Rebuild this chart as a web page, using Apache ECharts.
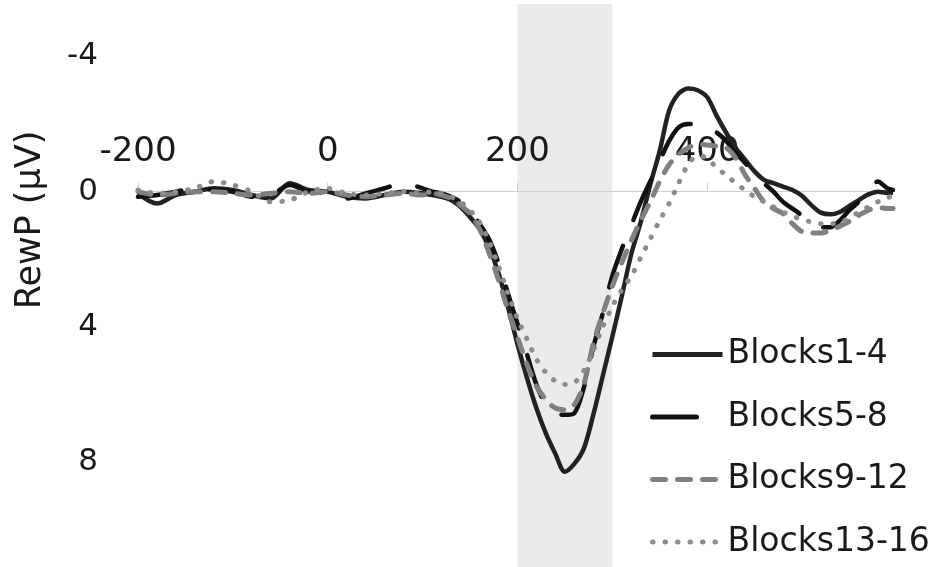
<!DOCTYPE html>
<html>
<head>
<meta charset="utf-8">
<script src="https://cdn.jsdelivr.net/npm/echarts@6/dist/echarts.min.js"></script>
<style>html,body{margin:0;padding:0;background:#fff;}#c{width:939px;height:567px;}</style>
</head>
<body>
<div id="c"></div>
<script>
var seriesNames = ['Blocks1-4', 'Blocks5-8', 'Blocks9-12', 'Blocks13-16'];
var xTickLabels = [-200, 0, 200, 400];
var yTickLabels = [-4, 0, 4, 8];
var shadedWindow = [200, 300];

var times = [-200,-180,-160,-140,-120,-100,-80,-60,-40,-20,0,20,40,60,80,100,
  110,120,130,140,150,160,170,180,190,200,
  210,220,230,240,250,260,270,280,290,300,
  310,320,330,340,350,360,370,380,390,400,
  410,420,430,440,450,460,470,480,490,500,
  510,520,530,540,550,560,570,580,590,596];

var blocks1_4 = [0.05,0.35,0.1,0.0,-0.1,-0.05,0.1,0.2,-0.25,-0.05,0.0,0.15,0.2,0.1,0.0,0.05,
  0.1,0.15,0.25,0.45,0.75,1.1,1.65,2.4,3.4,4.5,
  5.5,6.4,7.15,7.75,8.28,8.05,7.6,6.6,5.45,4.3,
  3.1,1.85,0.9,-0.2,-1.2,-2.4,-2.9,-3.05,-3.0,-2.8,
  -2.25,-1.75,-1.3,-0.95,-0.6,-0.35,-0.25,-0.15,-0.05,0.12,
  0.4,0.62,0.67,0.6,0.42,0.25,0.08,0.0,0.03,0.03];

var blocks5_8 = [0.15,0.1,0.0,-0.1,-0.05,0.0,0.15,0.1,-0.2,0.0,0.05,0.2,0.05,-0.1,-0.25,-0.1,
  0.0,0.05,0.15,0.3,0.55,0.95,1.4,2.1,3.0,3.9,
  4.8,5.7,6.3,6.55,6.6,6.55,5.8,4.6,3.6,2.5,
  1.7,1.0,0.3,-0.3,-0.9,-1.5,-1.9,-2.0,-2.0,-1.9,
  -1.75,-1.5,-1.15,-0.85,-0.55,-0.25,0.0,0.3,0.5,0.7,
  0.9,1.05,1.05,0.85,0.55,0.3,0.0,-0.3,-0.1,-0.05];

var blocks9_12 = [0.0,0.1,0.05,0.0,0.0,0.05,0.1,0.05,0.0,0.05,0.0,0.1,0.15,0.1,0.05,0.1,
  0.05,0.1,0.2,0.4,0.65,1.1,1.8,2.6,3.5,4.3,
  5.1,5.75,6.15,6.4,6.45,6.3,5.7,4.5,3.6,2.8,
  2.1,1.45,0.85,0.3,-0.3,-0.8,-1.1,-1.3,-1.4,-1.38,
  -1.35,-1.3,-1.0,-0.5,-0.1,0.3,0.5,0.65,0.95,1.18,
  1.22,1.22,1.15,1.02,0.88,0.7,0.55,0.47,0.5,0.5];

var blocks13_16 = [-0.05,0.05,0.0,-0.1,-0.3,-0.2,0.0,0.3,0.25,0.0,-0.1,0.05,0.1,0.05,0.0,0.05,
  0.0,0.05,0.15,0.3,0.55,0.9,1.45,2.2,3.0,3.75,
  4.35,4.95,5.35,5.6,5.7,5.65,5.3,4.7,4.0,3.4,
  2.9,2.5,1.95,1.4,0.85,0.35,-0.25,-0.8,-1.05,-1.0,
  -0.7,-0.5,-0.25,-0.05,0.15,0.3,0.45,0.6,0.72,0.82,
  0.9,0.95,0.95,0.9,0.78,0.6,0.45,0.3,0.18,0.12];

function pairs(vals) { return times.map(function (t, i) { return [t, vals[i]]; }); }

var FONT = 'DejaVu Sans';
var Y_MIN = -5.55, Y_MAX = 11.1, GRID_TOP = 4, GRID_H = 563;
// place the x axis on the zero line (distance of zero from the grid top)
var zeroOffset = -GRID_H * (0 - Y_MIN) / (Y_MAX - Y_MIN);

var chart = echarts.init(document.getElementById('c'), null, { renderer: 'canvas' });
chart.setOption({
  backgroundColor: '#ffffff',
  animation: false,
  grid: { left: 138, right: 46, top: GRID_TOP, bottom: 0, containLabel: false, outerBoundsMode: 'none' },
  xAxis: {
    type: 'value', min: -200, max: 596, interval: 200, position: 'top', offset: zeroOffset, z: 1.5,
    axisLine: { show: true, onZero: false, lineStyle: { color: '#d0d0d0', width: 1 } },
    axisTick: { show: true, length: 9, customValues: xTickLabels, lineStyle: { color: '#d0d0d0' } },
    axisLabel: {
      show: true, fontSize: 34, fontFamily: FONT, color: '#1a1a1a', margin: 22,
      hideOverlap: false,
      formatter: function (v) { return xTickLabels.indexOf(v) >= 0 ? String(v) : ''; }
    },
    splitLine: { show: false }
  },
  yAxis: {
    type: 'value', inverse: true, min: Y_MIN, max: Y_MAX,
    axisLine: { show: false }, axisTick: { show: false }, splitLine: { show: false },
    axisLabel: { customValues: yTickLabels, fontSize: 31, fontFamily: FONT, color: '#1a1a1a', margin: 40 }
  },
  legend: {
    orient: 'vertical', left: 650, top: 338, padding: 0, itemWidth: 70, itemHeight: 1, itemGap: 29.5,
    lineStyle: { width: 5 },
    textStyle: { fontSize: 33, fontFamily: FONT, color: '#1a1a1a' },
    data: seriesNames
  },
  graphic: [{
    type: 'text', x: 31, y: 220, rotation: Math.PI / 2,
    style: { text: 'RewP (μV)', fontSize: 35, fontFamily: FONT, fill: '#1a1a1a', align: 'center', verticalAlign: 'middle' }
  }],
  series: [
    { name: seriesNames[0], type: 'line', data: pairs(blocks1_4), symbol: 'none', smooth: 0.3,
      lineStyle: { color: '#222222', width: 4.5 }, itemStyle: { color: '#222222' },
      markArea: { silent: true, z: 1, itemStyle: { color: '#ebebeb' }, data: [[{ xAxis: shadedWindow[0] }, { xAxis: shadedWindow[1] }]] } },
    { name: seriesNames[1], type: 'line', data: pairs(blocks5_8), symbol: 'none', smooth: 0.3,
      lineStyle: { color: '#111111', width: 4.5, type: [44, 28], cap: 'round' }, itemStyle: { color: '#111111' } },
    { name: seriesNames[2], type: 'line', data: pairs(blocks9_12), symbol: 'none', smooth: 0.3,
      lineStyle: { color: '#808080', width: 5, type: [13, 12], cap: 'round' }, itemStyle: { color: '#808080' } },
    { name: seriesNames[3], type: 'line', data: pairs(blocks13_16), symbol: 'none', smooth: 0.3,
      lineStyle: { color: '#8c8c8c', width: 5, type: [0.5, 12], cap: 'round' }, itemStyle: { color: '#8c8c8c' } }
  ]
});
</script>
</body>
</html>
